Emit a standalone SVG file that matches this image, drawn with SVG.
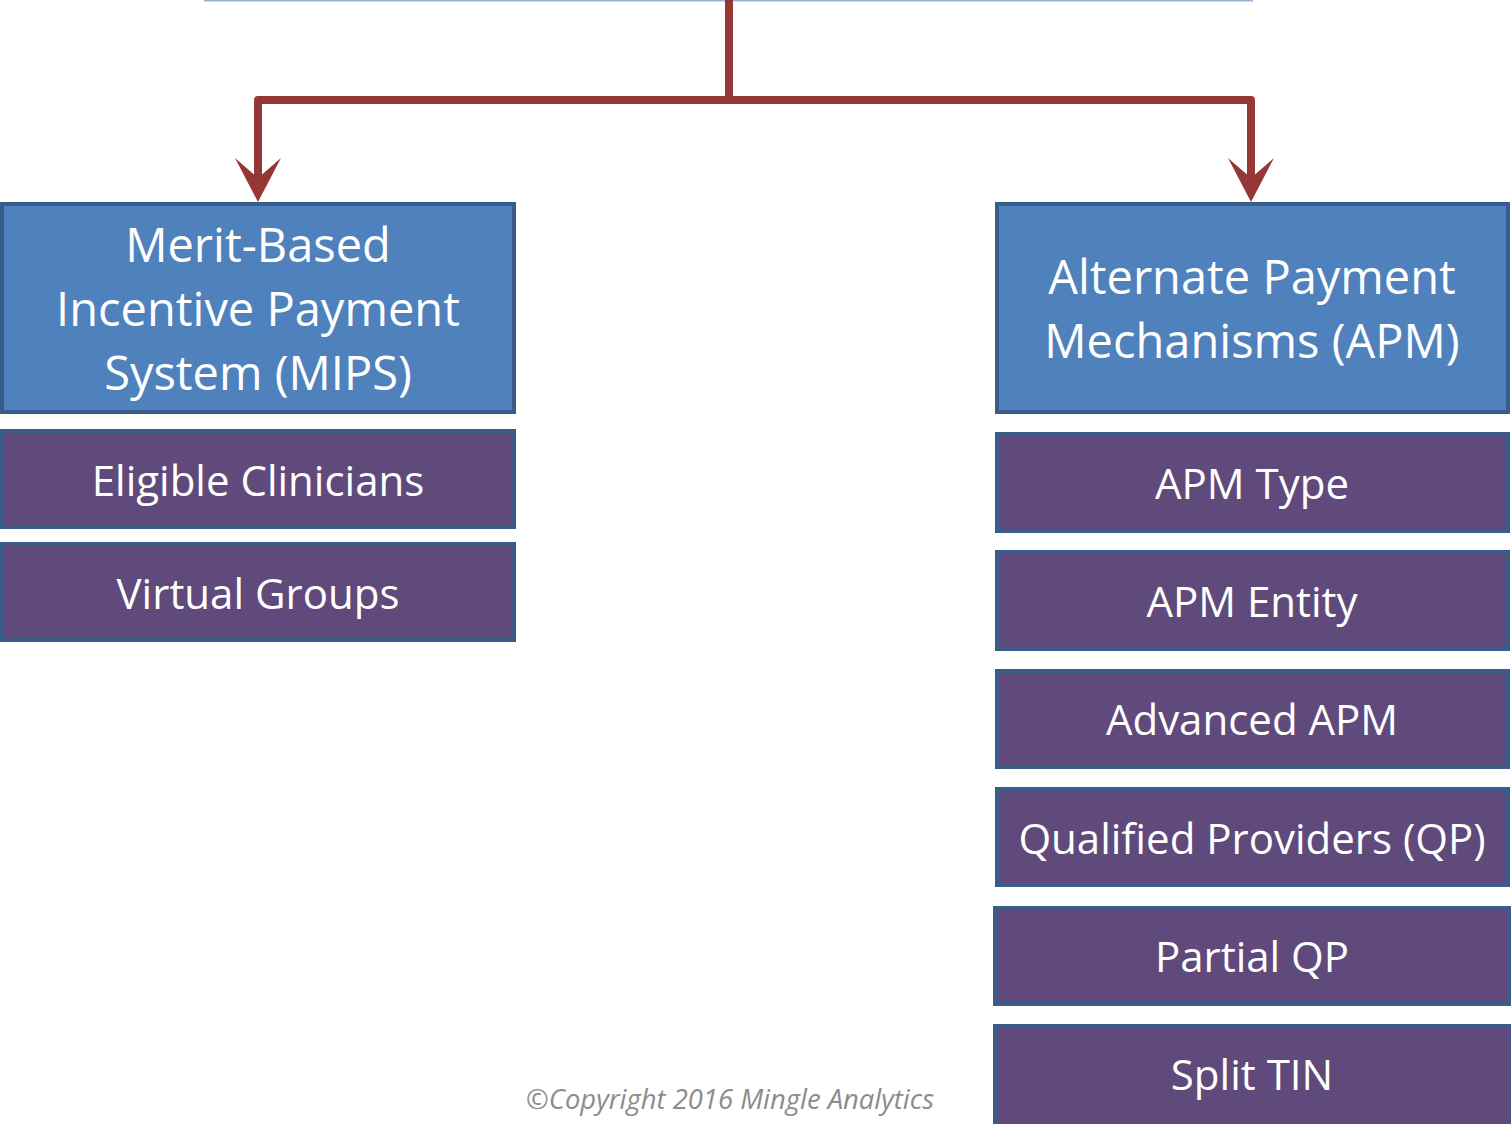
<svg xmlns="http://www.w3.org/2000/svg" width="1511" height="1124" viewBox="0 0 1511 1124">
  <style>
    .head { fill: #4F81BD; stroke: #385D8A; stroke-width: 4; }
    .item { fill: #604A7B; stroke: #385D8A; stroke-width: 4; }
    .label { font-family: "Open Sans", "Liberation Sans", sans-serif; font-size: 42px; fill: #FFFFFF; text-anchor: middle; }
    .big { font-size: 47px; }
    .link { fill: none; stroke: #953735; stroke-width: 8; stroke-linejoin: round; }
    .tip { fill: #953735; }
    .note { font-family: "Open Sans", "Liberation Sans", sans-serif; font-style: italic; font-size: 27.4px; fill: #8C8C8C; text-anchor: middle; }
  </style>
  <defs>
    <path id="arrowhead" class="tip" d="M-23,-44 L0,0 L23,-44 L0,-24 Z"/>
  </defs>
  <rect width="1511" height="1124" fill="#FFFFFF"/>
  <!-- rule above the split -->
  <line x1="204" y1="0.5" x2="1253" y2="0.5" stroke="#95B3D7" stroke-width="2"/>

  <g id="connectors">
    <path class="link" d="M729,0 L729,100"/>
    <path class="link" d="M258,190 L258,100 L1251,100 L1251,190"/>
    <use href="#arrowhead" x="258" y="202"/>
    <use href="#arrowhead" x="1251" y="202"/>
  </g>

  <g id="mips">
    <rect class="head" x="2" y="204" width="512" height="208"/>
    <text class="label big" x="258" y="262">Merit-Based</text>
    <text class="label big" x="258" y="326">Incentive Payment</text>
    <text class="label big" x="258" y="390">System (MIPS)</text>
  </g>
  <g id="eligible-clinicians">
    <rect class="item" x="2" y="431" width="512" height="96"/>
    <text class="label" x="258" y="496">Eligible Clinicians</text>
  </g>
  <g id="virtual-groups">
    <rect class="item" x="2" y="544" width="512" height="96"/>
    <text class="label" x="258" y="609">Virtual Groups</text>
  </g>

  <g id="apm">
    <rect class="head" x="997" y="204" width="511" height="208"/>
    <text class="label big" x="1252" y="294">Alternate Payment</text>
    <text class="label big" x="1252" y="358">Mechanisms (APM)</text>
  </g>
  <g id="apm-type">
    <rect class="item" x="997" y="434" width="511" height="97"/>
    <text class="label" x="1252" y="499">APM Type</text>
  </g>
  <g id="apm-entity">
    <rect class="item" x="997" y="552" width="511" height="97"/>
    <text class="label" x="1252" y="617">APM Entity</text>
  </g>
  <g id="advanced-apm">
    <rect class="item" x="997" y="671" width="511" height="96"/>
    <text class="label" x="1252" y="735">Advanced APM</text>
  </g>
  <g id="qualified-providers">
    <rect class="item" x="997" y="789" width="511" height="96"/>
    <text class="label" x="1252" y="854">Qualified Providers (QP)</text>
  </g>
  <g id="partial-qp">
    <rect class="item" x="995" y="908" width="514" height="96"/>
    <text class="label" x="1252" y="972">Partial QP</text>
  </g>
  <g id="split-tin">
    <rect class="item" x="995" y="1026" width="516" height="100"/>
    <text class="label" x="1252" y="1090">Split TIN</text>
  </g>

  <text class="note" x="730" y="1109">©Copyright 2016 Mingle Analytics</text>
</svg>
